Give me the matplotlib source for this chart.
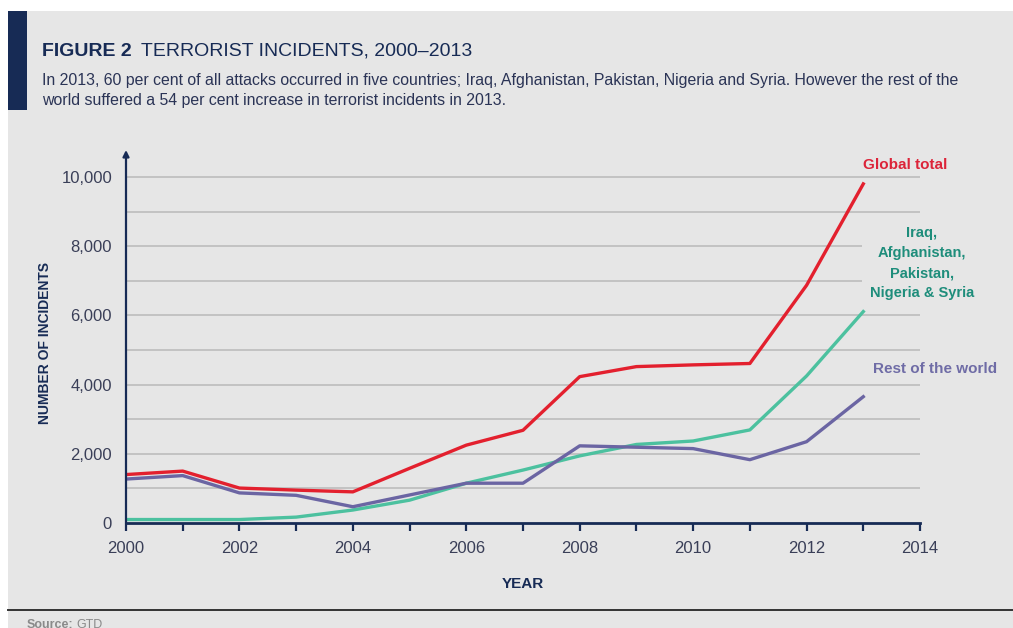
#!/usr/bin/env python3
"""Figure 2: terrorist incidents, 2000-2013 (GTD)."""

import matplotlib

matplotlib.use("Agg")
import matplotlib.pyplot as plt
from matplotlib.patches import Rectangle
from matplotlib.lines import Line2D

plt.rcParams["font.family"] = ["Liberation Sans", "DejaVu Sans"]

YEARS = list(range(2000, 2014))
GLOBAL_TOTAL = [1400, 1500, 1010, 950, 900, 1580, 2250, 2680, 4230, 4520,
                4570, 4610, 6870, 9800]
FIVE_COUNTRIES = [100, 100, 100, 170, 375, 660, 1150, 1530, 1940, 2270,
                  2370, 2690, 4250, 6110]
REST_OF_WORLD = [1270, 1370, 870, 800, 470, 810, 1150, 1150, 2230, 2190,
                 2150, 1830, 2350, 3650]
X_TICKS = list(range(2000, 2015, 2))
Y_TICKS = [0, 2000, 4000, 6000, 8000, 10000]

W, H = 1013, 628
NAVY = "#172b55"
TEXT = "#3a3f58"
RED = "#e3202e"
TEAL = "#4cc19f"
PURPLE = "#6b65a3"
BG = "#e6e6e6"


def fx(px):
    return px / W


def fy(py):
    return 1 - py / H


fig = plt.figure(figsize=(W / 100, H / 100), dpi=100, facecolor="white")

# panel background, side bar and bottom rule
fig.patches.append(Rectangle((fx(8), 0), 1 - fx(8), fy(11), transform=fig.transFigure,
                             facecolor=BG, edgecolor="none", zorder=-10))
fig.patches.append(Rectangle((fx(8), fy(110)), fx(19), fy(11) - fy(110),
                             transform=fig.transFigure, facecolor=NAVY,
                             edgecolor="none", zorder=-9))
fig.lines.append(Line2D([fx(8), 1], [fy(610), fy(610)], transform=fig.transFigure,
                        color="#333333", lw=1.4, zorder=-8))

fig.text(fx(42), fy(51), "FIGURE 2", fontsize=14, fontweight="bold",
         color=NAVY, va="center")
fig.text(fx(141), fy(51), "TERRORIST INCIDENTS, 2000\u20132013", fontsize=14,
         color=NAVY, va="center")
fig.text(fx(42), fy(80),
         "In 2013, 60 per cent of all attacks occurred in five countries; Iraq, "
         "Afghanistan, Pakistan, Nigeria and Syria. However the rest of the",
         fontsize=11.4, color="#2b3456", va="center")
fig.text(fx(42), fy(100),
         "world suffered a 54 per cent increase in terrorist incidents in 2013.",
         fontsize=11.4, color="#2b3456", va="center")
fig.text(fx(27), fy(625), "Source:", fontsize=9, fontweight="bold",
         color="#8a8a8a", va="center")
fig.text(fx(76), fy(625), "GTD", fontsize=9, color="#8a8a8a", va="center")

ymax = 10780
ax = fig.add_axes([fx(126), fy(523), fx(920) - fx(126), fy(150) - fy(523)])
ax.set_facecolor("none")
ax.set_xlim(2000, 2014)
ax.set_ylim(0, ymax)

for v in range(1000, 11000, 1000):
    ax.axhline(v, color="#b9b9b9", lw=1.1, zorder=1)

ax.plot(YEARS, FIVE_COUNTRIES, color=TEAL, lw=2.4, zorder=3)
ax.plot(YEARS, REST_OF_WORLD, color=PURPLE, lw=2.4, zorder=3)
ax.plot(YEARS, GLOBAL_TOTAL, color=RED, lw=2.4, zorder=4)

for s in ["top", "right", "left"]:
    ax.spines[s].set_visible(False)
ax.spines["bottom"].set_color(NAVY)
ax.spines["bottom"].set_linewidth(2)
ax.spines["bottom"].set_zorder(5)
ax.annotate("", xy=(0, 1), xytext=(0, 0), xycoords="axes fraction",
            arrowprops=dict(arrowstyle="-|>", color=NAVY, lw=1.6,
                            mutation_scale=9, shrinkA=0, shrinkB=0),
            zorder=6)

ax.set_xticks(X_TICKS)
ax.set_xticks(YEARS, minor=True)
ax.set_xticklabels([str(t) for t in X_TICKS])
ax.set_yticks(Y_TICKS)
ax.set_yticklabels([f"{t:,}" for t in Y_TICKS])
ax.tick_params(axis="x", which="both", direction="out", length=6, width=1.6,
               color=NAVY, labelsize=12, labelcolor=TEXT, pad=7)
ax.tick_params(axis="y", length=0, labelsize=12, labelcolor=TEXT, pad=10)

ax.set_xlabel("YEAR", fontsize=11, fontweight="bold", color=NAVY, labelpad=15)
fig.text(fx(45), fy(343), "NUMBER OF INCIDENTS", rotation=90, fontsize=10,
         fontweight="bold", color=NAVY, ha="center", va="center")

# series labels
fig.text(fx(905), fy(165), "Global total", fontsize=11, fontweight="bold",
         color="#dc2439", ha="center", va="center")
fig.text(fx(922), fy(263), "Iraq,\nAfghanistan,\nPakistan,\nNigeria & Syria",
         fontsize=10.5, fontweight="bold", color="#1e8d7b", ha="center",
         va="center", linespacing=1.55,
         bbox=dict(facecolor=BG, edgecolor="none", pad=6), zorder=5)
fig.text(fx(935), fy(369), "Rest of the world", fontsize=11, fontweight="bold",
         color="#6f6ca6", ha="center", va="center")

fig.savefig("out.png", dpi=100, facecolor=fig.get_facecolor())
